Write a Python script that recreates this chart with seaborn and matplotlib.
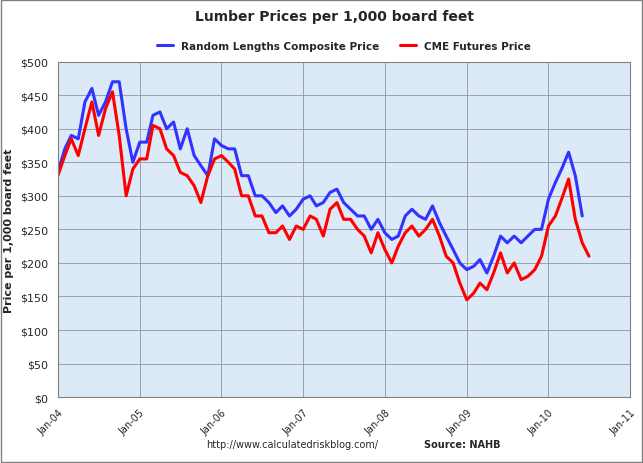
import matplotlib
matplotlib.use("Agg")
import matplotlib.pyplot as plt
import matplotlib.dates as mdates
import seaborn as sns
import pandas as pd

blue_vals = [335,370,390,385,440,460,420,440,470,470,400,350,
             380,380,420,425,400,410,370,400,360,345,330,385,
             375,370,370,330,330,300,300,290,275,285,270,280,
             295,300,285,290,305,310,290,280,270,270,250,265,
             245,235,240,270,280,270,265,285,260,240,220,200,
             190,195,205,185,210,240,230,240,230,240,250,250,
             295,320,340,365,330,270]
red_vals = [330,360,385,360,400,440,390,430,455,390,300,340,
            355,355,405,400,370,360,335,330,315,290,330,355,
            360,350,340,300,300,270,270,245,245,255,235,255,
            250,270,265,240,280,290,265,265,250,240,215,245,
            220,200,225,245,255,240,250,265,240,210,200,170,
            145,155,170,160,185,215,185,200,175,180,190,210,
            255,270,295,325,265,230,210]
blue_dates = pd.date_range("2004-01-01", periods=len(blue_vals), freq="MS")
red_dates = pd.date_range("2004-01-01", periods=len(red_vals), freq="MS")
yticks = list(range(0, 501, 50))
xtick_labels = ["Jan-04","Jan-05","Jan-06","Jan-07","Jan-08","Jan-09","Jan-10","Jan-11"]

sns.set_style("white")
fig = plt.figure(figsize=(6.43, 4.64), dpi=100)
fig.patches.append(plt.Rectangle((0.002, 0.002), 0.996, 0.996, transform=fig.transFigure,
                                 fill=False, edgecolor="#808080", lw=1))
ax = fig.add_axes([0.09, 0.142, 0.89, 0.723])
ax.set_facecolor("#dce9f7")
sns.lineplot(x=blue_dates, y=blue_vals, ax=ax, color="#3333ff", lw=2.2, label="Random Lengths Composite Price")
sns.lineplot(x=red_dates, y=red_vals, ax=ax, color="#ff0000", lw=2.2, label="CME Futures Price")
ax.set_ylim(0, 500)
ax.set_xlim(pd.Timestamp("2004-01-01"), pd.Timestamp("2011-01-01"))
ax.set_yticks(yticks)
ax.set_yticklabels([f"${v}" for v in yticks], fontsize=8)
xt = pd.to_datetime([f"20{l[-2:]}-01-01" for l in xtick_labels])
ax.set_xticks(xt)
ax.set_xticklabels(xtick_labels, rotation=45, fontsize=7, ha="right", rotation_mode="anchor")
ax.grid(True, color="#8a96a8", lw=0.6)
for s in ax.spines.values():
    s.set_color("#808080")
ax.set_ylabel("Price per 1,000 board feet", fontsize=8, fontweight="bold")
ax.set_xlabel("")
fig.text(0.52, 0.955, "Lumber Prices per 1,000 board feet", ha="center", fontsize=10, fontweight="bold")
ax.legend(loc="lower center", bbox_to_anchor=(0.5, 1.01), ncol=2, frameon=False,
          prop={"size": 7.5, "weight": "bold"}, handlelength=1.5, borderpad=0.2)
fig.text(0.32, 0.035, "http://www.calculatedriskblog.com/", fontsize=7)
fig.text(0.66, 0.035, "Source: NAHB", fontsize=7, fontweight="bold")
fig.savefig("out.png", dpi=100)
